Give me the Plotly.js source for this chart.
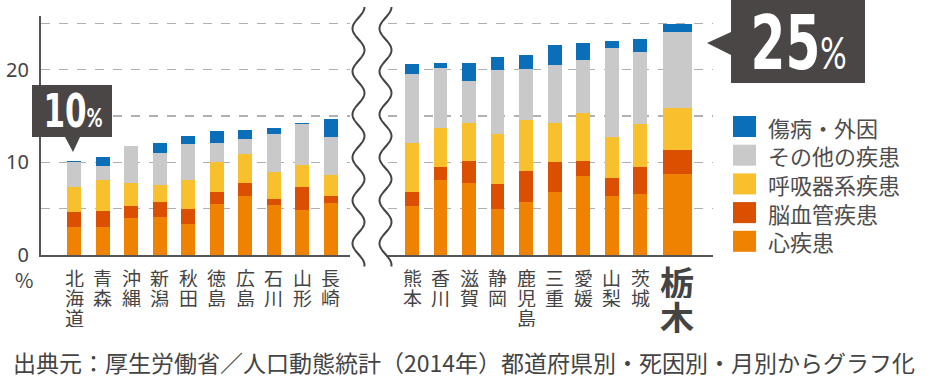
<!DOCTYPE html>
<html>
<head>
<meta charset="utf-8">
<script src="https://cdn.plot.ly/plotly-3.0.1.min.js"></script>
<style>html,body{margin:0;padding:0;background:#fff;}#chart{width:927px;height:379px;}</style>
</head>
<body>
<div id="chart"></div>
<script>
// ---- data ----
const leftCats  = ['北海道','青森','沖縄','新潟','秋田','徳島','広島','石川','山形','長崎'];
const rightCats = ['熊本','香川','滋賀','静岡','鹿児島','三重','愛媛','山梨','茨城','栃木'];
const seriesNames = ['心疾患','脳血管疾患','呼吸器系疾患','その他の疾患','傷病・外因'];

const heartL  = [3.0, 3.0, 4.0, 4.1, 3.35, 5.5, 6.35, 5.35, 4.9, 5.6];
const strokeL = [1.6, 1.7, 1.25, 1.65, 1.6, 1.35, 1.45, 0.7, 2.45, 0.8];
const respL   = [2.75, 3.4, 2.5, 1.8, 3.2, 3.15, 3.1, 2.95, 2.35, 2.2];
const otherL  = [2.65, 1.55, 4.0, 3.45, 3.85, 2.1, 1.65, 4.05, 4.4, 4.1];
const injuryL = [0.1, 0.95, 0, 1.05, 0.9, 1.25, 0.9, 0.7, 0.15, 1.95];

const heartR  = [5.25, 8.05, 7.75, 5.0, 5.75, 6.85, 8.5, 6.35, 6.55, 8.7];
const strokeR = [1.55, 1.4, 2.35, 2.65, 3.35, 3.2, 1.7, 2.0, 2.9, 2.65];
const respR   = [5.25, 4.3, 4.1, 5.4, 5.5, 4.25, 5.15, 4.4, 4.65, 4.55];
const otherR  = [7.45, 6.45, 4.6, 6.9, 5.5, 6.25, 5.75, 9.55, 7.8, 8.2];
const injuryR = [1.15, 0.5, 1.95, 1.4, 1.45, 2.1, 1.8, 0.85, 1.45, 0.8];

const yTickVals = [0, 5, 10, 15, 20, 25];
const yTickText = ['0', '', '10', '', '20', ''];
const calloutLow = '10';
const calloutHigh = '25';
const sourceText = '出典元：厚生労働省／人口動態統計（2014年）都道府県別・死因別・月別からグラフ化';

// ---- styles ----
const colors = ['#EF8200', '#DA5000', '#F9C02E', '#C9C9C9', '#0A6EB8'];
const W = 927, H = 379;
const px = x => x / W;
const py = y => 1 - y / H;
const textCol = '#444';
const jp = '"Noto Sans CJK JP", "Noto Sans", sans-serif';
const narrow = '"Liberation Sans Narrow", "DejaVu Sans Condensed", "Roboto", sans-serif';

const leftVals = [heartL, strokeL, respL, otherL, injuryL];
const rightVals = [heartR, strokeR, respR, otherR, injuryR];

const hiIdx = rightCats.length - 1;        // highlighted (栃木)
const hiShift = 0.30;
const wN = 0.49, wH = 1.02;
const rWidth = rightCats.map((c, i) => i === hiIdx ? wH : wN);
const rOffset = rightCats.map((c, i) => i === hiIdx ? hiShift - wH / 2 : -wN / 2);

const traces = [];
seriesNames.forEach((n, k) => {
  traces.push({type: 'bar', name: n, x: leftCats, y: leftVals[k], xaxis: 'x', yaxis: 'y',
    width: wN, marker: {color: colors[k], line: {width: 0}}, showlegend: false, hoverinfo: 'skip'});
  traces.push({type: 'bar', name: n, x: rightCats, y: rightVals[k], xaxis: 'x2', yaxis: 'y',
    width: rWidth, offset: rOffset, marker: {color: colors[k], line: {width: 0}}, showlegend: false, hoverinfo: 'skip'});
});

const shapes = [];
const annotations = [];

// category labels, one character per line
function addLabels(cats, xref) {
  cats.forEach((c, i) => {
    const hi = (xref === 'x2' && i === hiIdx);
    const chars = Array.from(c);
    chars.forEach((ch, j) => {
      annotations.push({
        xref: xref, yref: 'paper', x: hi ? i + hiShift : i,
        y: py(hi ? 281 + 35 * j : 277 + 20.2 * j),
        text: hi ? '<b>' + ch + '</b>' : ch, showarrow: false,
        xanchor: 'center', yanchor: 'middle', borderpad: 0, height: hi ? 33 : 19,
        font: {family: jp, size: hi ? 34 : 19, color: textCol}
      });
    });
  });
}
addLabels(leftCats, 'x');
addLabels(rightCats, 'x2');

// % unit under axis
annotations.push({xref: 'paper', yref: 'paper', x: px(24), y: py(279), text: '%', showarrow: false,
  xanchor: 'center', yanchor: 'middle', font: {family: jp, size: 20, color: textCol}});

// source
annotations.push({xref: 'paper', yref: 'paper', x: px(12), y: py(362), text: sourceText, showarrow: false,
  xanchor: 'left', yanchor: 'middle', borderpad: 0, height: 28, font: {family: jp, size: 23, color: textCol}});

// legend (top item = last series)
const legendOrder = [4, 3, 2, 1, 0];
legendOrder.forEach((k, r) => {
  const cy = 126.5 + 28.7 * r;
  shapes.push({type: 'rect', xref: 'paper', yref: 'paper', x0: px(733), x1: px(756),
    y0: py(cy - 10.5), y1: py(cy + 10.5), fillcolor: colors[k], line: {width: 0}});
  annotations.push({xref: 'paper', yref: 'paper', x: px(766), y: py(cy), text: seriesNames[k],
    showarrow: false, xanchor: 'left', yanchor: 'middle', font: {family: jp, size: 22, color: '#4d4d4d'}});
});

// callouts
const boxCol = '#4A4645';
shapes.push({type: 'path', xref: 'paper', yref: 'paper', fillcolor: boxCol, line: {width: 0},
  path: `M${px(32)},${py(85)} L${px(112)},${py(85)} L${px(112)},${py(137)} L${px(80)},${py(137)} L${px(73)},${py(152)} L${px(65)},${py(137)} L${px(32)},${py(137)} Z`});
annotations.push({xref: 'paper', yref: 'paper', x: px(73), y: py(112), showarrow: false,
  xanchor: 'center', yanchor: 'middle',
  text: '<b>' + calloutLow + '</b><span style="font-size:24px;font-family:Lato, sans-serif"><b>%</b></span>',
  font: {family: narrow, size: 42, color: '#fff'}});

shapes.push({type: 'path', xref: 'paper', yref: 'paper', fillcolor: boxCol, line: {width: 0},
  path: `M${px(731)},${py(0)} L${px(865)},${py(0)} L${px(865)},${py(83)} L${px(731)},${py(83)} L${px(731)},${py(55)} L${px(707)},${py(43)} L${px(731)},${py(32)} Z`});
annotations.push({xref: 'paper', yref: 'paper', x: px(798), y: py(43), showarrow: false,
  xanchor: 'center', yanchor: 'middle',
  text: '<b>' + calloutHigh + '</b><span style="font-size:40px;font-family:Lato, sans-serif">%</span>',
  font: {family: narrow, size: 68, color: '#fff'}});

// axis-break waves
function wave(cx) {
  const A = 6, P = 43, y0 = 7, y1 = 267;
  let d = '';
  for (let y = y0; y <= y1; y += 1.5) {
    const x = cx + A * Math.cos(2 * Math.PI * (y - y0) / P);
    d += (d ? ' L' : 'M') + px(x).toFixed(5) + ',' + py(y).toFixed(5);
  }
  return d;
}
[358.5, 385.5].forEach(cx => shapes.push({type: 'path', xref: 'paper', yref: 'paper',
  path: wave(cx), line: {color: '#444', width: 2}}));

const baseX = {type: 'category', showline: true, linecolor: '#555', linewidth: 2, showgrid: false,
  showticklabels: false, ticks: '', zeroline: false, fixedrange: true};

const layout = {
  width: W, height: H, margin: {l: 0, r: 0, t: 0, b: 0},
  paper_bgcolor: '#fff', plot_bgcolor: 'rgba(0,0,0,0)',
  barmode: 'stack', showlegend: false,
  xaxis: Object.assign({}, baseX, {domain: [px(41), px(350)], range: [-1.156, 9.667], anchor: 'y'}),
  xaxis2: Object.assign({}, baseX, {domain: [px(388), px(713)], range: [-0.842, 10.56], anchor: 'y'}),
  yaxis: {domain: [py(255), py(16)], range: [0, 25.8], showline: true, linecolor: '#555', linewidth: 2,
    tickvals: yTickVals, ticktext: yTickText, showgrid: true, gridcolor: '#b0b0b0', griddash: 'dash',
    gridwidth: 1.3, zeroline: false, ticks: '', ticklabelstandoff: 6,
    tickfont: {family: '"Noto Sans", "Open Sans", sans-serif', size: 20, color: textCol}, fixedrange: true, anchor: 'x'},
  shapes: shapes, annotations: annotations
};

Plotly.newPlot('chart', traces, layout, {staticPlot: true, displayModeBar: false}).then(gd => {
  // condense the big callout numerals a little (text stays real text)
  try {
    gd.querySelectorAll('.annotation').forEach(a => {
      const t = a.querySelector('text.annotation-text');
      if (!t) return;
      const s = t.textContent;
      if (s === calloutLow + '%' || s === calloutHigh + '%') {
        const bb = t.getBBox();
        const cx = bb.x + bb.width / 2, cy = bb.y + bb.height / 2;
        t.setAttribute('transform', `translate(${cx},${cy}) scale(0.82,1.1) translate(${-cx},${-cy})`);
      }
    });
  } catch (e) {}
});
</script>
</body>
</html>
